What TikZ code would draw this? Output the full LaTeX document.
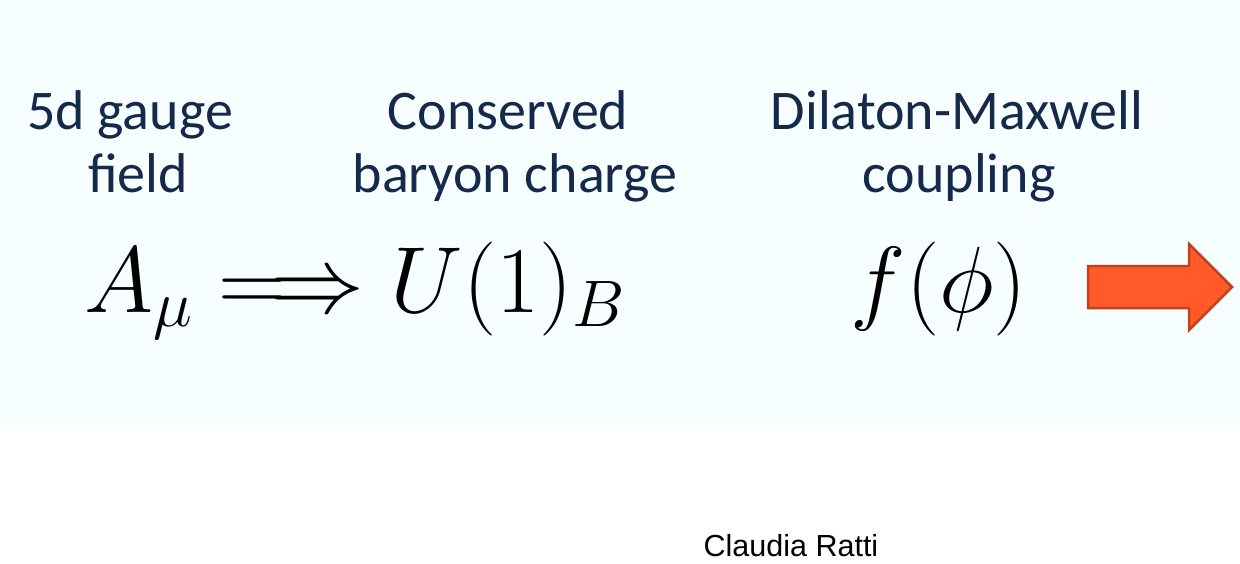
\RequirePackage{fix-cm}
\documentclass[tikz,border=0pt]{standalone}
\usepackage{fontspec}
\newfontfamily\labelfont{Carlito}
\newfontfamily\footfont{Liberation Sans}
\definecolor{navy}{HTML}{15294A}
\definecolor{bgcyan}{HTML}{F7FEFF}
\definecolor{arrowfill}{HTML}{FF5A28}
\definecolor{arrowedge}{HTML}{C0421C}
\tikzset{
  lbl/.style={anchor=base, inner sep=0pt, text=navy, font=\labelfont\fontsize{56}{62}\selectfont},
  mth/.style={anchor=base, inner sep=0pt, text=black, font=\fontsize{94}{104}\selectfont},
  foot/.style={anchor=base, inner sep=0pt, text=black, font=\footfont\fontsize{30.5}{34}\selectfont},
  bigarrow/.style={fill=arrowfill, draw=arrowedge, line width=2.5pt, line join=miter}
}
\begin{document}
\begin{tikzpicture}[x=1pt, y=-1pt]
\useasboundingbox (0,0) rectangle (1240,563);
\fill[white] (0,0) rectangle (1240,563);
\fill[bgcyan] (0,0) rectangle (1240,426);
% labels
\node[lbl] (l1a) at (130,129) {5d gauge};
\node[lbl] (l1b) at (138,192) {field};
\node[lbl] (l2a) at (508,129) {Conserved};
\node[lbl] (l2b) at (515,192) {baryon charge};
\node[lbl] (l3a) at (957,129) {Dilaton-Maxwell};
\node[lbl] (l3b) at (959,192) {coupling};
% math
\node[mth] (m1) at (355,312) {$A_\mu \Longrightarrow U(1)_B$};
\node[mth] (m2) at (939,312) {$f(\phi)$};
% red arrow
\coordinate (a1) at (1088,266);
\coordinate (a2) at (1189,266);
\coordinate (a3) at (1189,244);
\coordinate (a4) at (1232,287);
\coordinate (a5) at (1189,330);
\coordinate (a6) at (1189,308);
\coordinate (a7) at (1088,308);
\draw[bigarrow] (a1) -- (a2) -- (a3) -- (a4) -- (a5) -- (a6) -- (a7) -- cycle;
% footer
\node[foot] (ft) at (791,556) {Claudia Ratti};
\end{tikzpicture}
\end{document}
